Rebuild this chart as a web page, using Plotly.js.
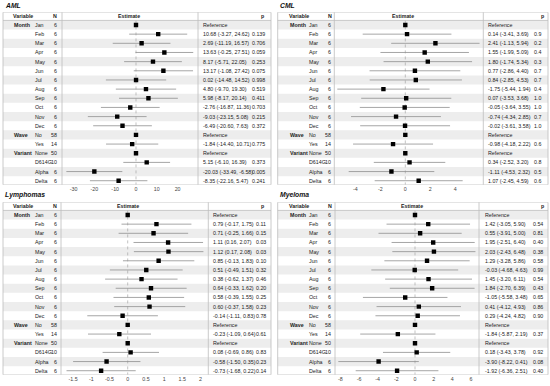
<!DOCTYPE html>
<html><head><meta charset="utf-8">
<script src="https://cdn.plot.ly/plotly-3.0.1.min.js"></script>
<style>html,body{margin:0;padding:0;background:#fff}#chart{width:550px;height:386px}</style>
</head><body><div id="chart"></div>
<script>
// ---------- data ----------
const rowNames = ['Jan','Feb','Mar','Apr','May','Jun','Jul','Aug','Sep','Oct','Nov','Dec','No','Yes','None','D614G','Alpha','Delta'];
const groupLabels = ['Month','Wave','Variant'];
const groupRows = [0, 12, 14];
const nValues = [6,6,6,6,6,6,6,6,6,6,6,6,58,14,50,10,6,6];
const panelTitles = ['AML','CML','Lymphomas','Myeloma'];

const amlEst = [0,10.68,2.69,13.63,8.17,13.17,0.02,4.80,5.98,-2.76,-9.03,-6.49,0,-1.84,0,5.15,-20.03,-8.35];
const amlLo  = [null,-3.27,-11.19,-0.25,-5.71,-1.08,-14.48,-9.70,-8.17,-16.87,-23.15,-20.60,null,-14.40,null,-6.10,-33.49,-22.16];
const amlHi  = [null,24.62,16.57,27.51,22.05,27.42,14.52,19.30,20.14,11.36,5.08,7.63,null,10.71,null,16.39,-6.58,5.47];
const amlP   = [null,0.139,0.706,0.059,0.253,0.075,0.998,0.519,0.411,0.703,0.215,0.372,null,0.775,null,0.373,0.005,0.241];
const amlTicks = [-30,-20,-10,0,10,20];

const cmlEst = [0,0.14,2.41,1.55,1.80,0.77,0.84,-1.75,0.07,-0.05,-0.74,-0.02,0,-0.98,0,0.34,-1.11,1.07];
const cmlLo  = [null,-3.41,-1.13,-1.99,-1.74,-2.86,-2.85,-5.44,-3.53,-3.64,-4.34,-3.61,null,-4.18,null,-2.52,-4.53,-2.45];
const cmlHi  = [null,3.69,5.94,5.09,5.34,4.40,4.53,1.94,3.68,3.55,2.85,3.58,null,2.22,null,3.20,2.32,4.59];
const cmlP   = [null,0.9,0.2,0.4,0.3,0.7,0.7,0.4,1.0,1.0,0.7,1.0,null,0.6,null,0.8,0.5,0.6];
const cmlTicks = [-4,-2,0,2,4];

const lymEst = [0,0.79,0.71,1.11,1.12,0.85,0.51,0.38,0.64,0.58,0.60,-0.14,0,-0.23,0,0.08,-0.58,-0.73];
const lymLo  = [null,-0.17,-0.25,0.16,0.17,-0.13,-0.49,-0.62,-0.33,-0.39,-0.37,-1.11,null,-1.09,null,-0.69,-1.50,-1.68];
const lymHi  = [null,1.75,1.66,2.07,2.08,1.83,1.51,1.37,1.62,1.55,1.58,0.83,null,0.64,null,0.86,0.35,0.22];
const lymP   = [null,0.11,0.15,0.03,0.03,0.10,0.32,0.46,0.20,0.25,0.23,0.78,null,0.61,null,0.83,0.23,0.14];
const lymTicks = [-1.5,-1,-0.5,0,0.5,1,1.5,2];

const myeEst = [0,1.42,0.55,1.95,2.03,1.29,-0.03,1.45,1.84,-1.05,0.41,0.29,0,-1.84,0,0.18,-3.90,-1.92];
const myeLo  = [null,-3.05,-3.91,-2.51,-2.43,-3.28,-4.68,-3.20,-2.70,-5.58,-4.12,-4.24,null,-5.87,null,-3.43,-8.22,-6.36];
const myeHi  = [null,5.90,5.00,6.40,6.48,5.86,4.63,6.11,6.39,3.48,4.93,4.82,null,2.19,null,3.78,0.41,2.51];
const myeP   = [null,0.54,0.81,0.40,0.38,0.58,0.99,0.54,0.43,0.65,0.86,0.90,null,0.37,null,0.92,0.08,0.40];
const myeTicks = [-8,-6,-4,-2,0,2,4,6];

const pDecimals = [3,1,2,2];

// ---------- layout geometry (pixels) ----------
const W = 550, H = 386, ROWH = 9.16;
const geo = [
  {off:0,   box:[3,271],     div:[62,198],    range:[-35.58,29.81], txt:201.5, pX:250.5, pHdr:263.3, nameX:34.2, grpX:13,   nX:57.8, varX:11.5,  nHdr:55,  estHdr:129, titleX:3,   titleY:5},
  {off:0,   box:[277.7,548], div:[334.3,483.3],range:[-5.68,6.24],txt:487.3, pX:532.5, pHdr:543.3, nameX:307.5,grpX:288.5,nX:332.3,varX:287.7,nHdr:329.5, estHdr:403, titleX:278, titleY:5},
  {off:190, box:[3,271],     div:[61,208.3],  range:[-1.832,2.214], txt:212.3, pX:255,   pHdr:263.3, nameX:34.2, grpX:13,   nX:57.8, varX:11.5,  nHdr:55,  estHdr:128, titleX:3,   titleY:195},
  {off:190, box:[277.7,548], div:[335,479],   range:[-8.574,6.86],  txt:484,   pX:531.7, pHdr:543.3, nameX:307.5,grpX:288.5,nX:332.3,varX:287.7,nHdr:329.5, estHdr:412, titleX:278, titleY:195}
];
const series = [
  [amlEst, amlLo, amlHi, amlP, amlTicks],
  [cmlEst, cmlLo, cmlHi, cmlP, cmlTicks],
  [lymEst, lymLo, lymHi, lymP, lymTicks],
  [myeEst, myeLo, myeHi, myeP, myeTicks]
];

const FONT = 'Liberation Sans, Arial, sans-serif';
const TXT = '#222222';
const FS = 5.3;
const px = v => v / W;
const YTOP = -1.4, YBOT = 17.45;

const traces = [], shapes = [], annotations = [];
const layout = {
  width: W, height: H, margin: {l:0, r:0, t:0, b:0},
  paper_bgcolor: '#ffffff', plot_bgcolor: 'rgba(0,0,0,0)',
  showlegend: false, font: {family: FONT, size: FS, color: TXT}
};

function ann(x, y, text, opts) {
  annotations.push(Object.assign({
    xref: 'paper', yref: opts.yref, x: px(x), y: y, text: text, showarrow: false,
    xanchor: opts.xa || 'left', yanchor: 'middle', borderpad: 0,
    font: {family: FONT, size: opts.size || FS, color: opts.color || TXT}
  }, opts.extra || {}));
}

series.forEach((s, k) => {
  const [est, lo, hi, pv, ticks] = s;
  const g = geo[k];
  const idx = k === 0 ? '' : String(k + 1);
  const xa = 'x' + idx, ya = 'y' + idx;
  const row0 = 25 + g.off;
  const topPx = row0 + YTOP * ROWH, botPx = row0 + YBOT * ROWH;

  layout['xaxis' + idx] = {
    domain: [px(g.div[0]), px(g.div[1])], range: g.range, anchor: ya,
    tickvals: ticks, ticktext: ticks.map(String), showgrid: false, zeroline: false,
    showline: false, ticks: '', tickfont: {family: FONT, size: FS, color: '#444'},
    fixedrange: true
  };
  layout['yaxis' + idx] = {
    domain: [1 - botPx / H, 1 - topPx / H], range: [YBOT, YTOP], anchor: xa,
    visible: false, showgrid: false, zeroline: false, fixedrange: true
  };

  // row shading
  for (let i = 0; i < rowNames.length; i += 2) {
    shapes.push({type:'rect', xref:'paper', yref:ya, x0:px(g.box[0]), x1:px(g.box[1]),
      y0:i - 0.5, y1:i + 0.5, fillcolor:'#ededed', line:{width:0}, layer:'below'});
  }
  // box border
  shapes.push({type:'rect', xref:'paper', yref:ya, x0:px(g.box[0]), x1:px(g.box[1]),
    y0:YTOP, y1:YBOT, line:{color:'#bdbdbd', width:0.8}, fillcolor:'rgba(0,0,0,0)', layer:'above'});
  // header separator
  shapes.push({type:'line', xref:'paper', yref:ya, x0:px(g.box[0]), x1:px(g.box[1]),
    y0:-0.5, y1:-0.5, line:{color:'#bdbdbd', width:0.8}, layer:'above'});
  // column dividers
  g.div.forEach(d => shapes.push({type:'line', xref:'paper', yref:ya, x0:px(d), x1:px(d),
    y0:YTOP, y1:YBOT, line:{color:'#bdbdbd', width:0.8}, layer:'above'}));
  // reference line at 0
  shapes.push({type:'line', xref:xa, yref:ya, x0:0, x1:0, y0:-0.5, y1:YBOT,
    line:{color:'#9a9a9a', width:0.6, dash:'dot'}, layer:'below'});

  // estimates with CI
  const rows = rowNames.map((_, i) => i);
  traces.push({
    type:'scatter', mode:'markers', xaxis:xa, yaxis:ya, x:est, y:rows,
    marker:{symbol:'square', size:4.4, color:'#000'},
    error_x:{type:'data', symmetric:false,
      array: est.map((e, i) => hi[i] === null ? 0 : hi[i] - e),
      arrayminus: est.map((e, i) => lo[i] === null ? 0 : e - lo[i]),
      width:0, thickness:0.8, color:'#8f8f8f'},
    hoverinfo:'skip'
  });

  // title
  annotations.push({xref:'paper', yref:'paper', x:px(g.titleX), y:1 - g.titleY / H,
    text:'<b><i>' + panelTitles[k] + '</i></b>', showarrow:false, xanchor:'left', yanchor:'middle',
    font:{family:FONT, size:6.8, color:'#111'}});

  // header
  ann(g.varX, -0.95, '<b>Variable</b>', {yref:ya});
  ann(g.nHdr, -0.95, '<b>N</b>', {yref:ya, xa:'center'});
  ann(g.estHdr, -0.95, '<b>Estimate</b>', {yref:ya, xa:'center'});
  ann(g.pHdr, -0.95, '<b>p</b>', {yref:ya, xa:'center'});

  groupLabels.forEach((lab, j) => ann(g.grpX, groupRows[j], '<b>' + lab + '</b>', {yref:ya}));
  rowNames.forEach((nm, i) => {
    ann(g.nameX, i, nm, {yref:ya});
    ann(g.nX, i, String(nValues[i]), {yref:ya, xa:'right'});
    const t = lo[i] === null ? 'Reference'
      : est[i].toFixed(2) + ' (' + lo[i].toFixed(2) + ', ' + hi[i].toFixed(2) + ')';
    ann(g.txt, i, t, {yref:ya});
    if (pv[i] !== null) ann(g.pX, i, pv[i].toFixed(pDecimals[k]), {yref:ya});
  });
});

layout.shapes = shapes;
layout.annotations = annotations;
Plotly.newPlot('chart', traces, layout, {displayModeBar:false, staticPlot:true});
</script></body></html>
